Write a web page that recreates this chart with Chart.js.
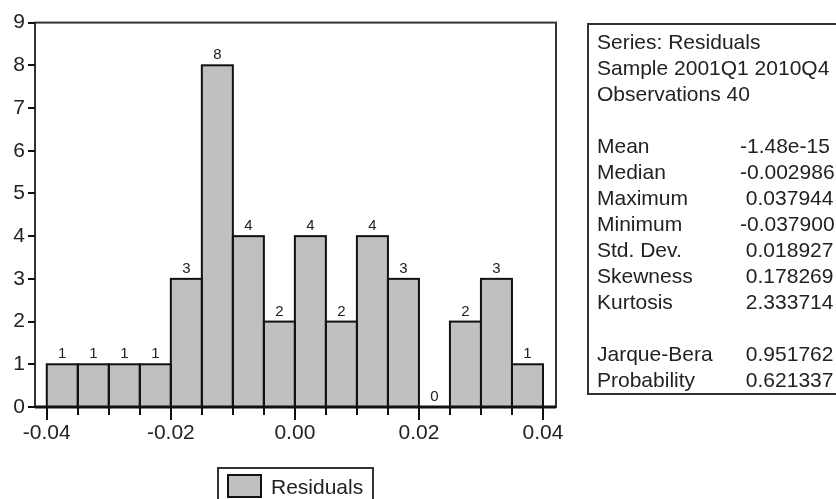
<!DOCTYPE html>
<html>
<head>
<meta charset="utf-8">
<script src="https://cdn.jsdelivr.net/npm/chart.js@4.4.1/dist/chart.umd.min.js"></script>
<style>
  html, body { margin: 0; padding: 0; background: #fff; overflow: hidden; }
  body { font-family: "Liberation Sans", Arial, sans-serif; color: #222; }
  #wrap { position: relative; width: 836px; height: 499px; }
  #stats {
    position: absolute; left: 587px; top: 23px; width: 300px; height: 372px;
    border: 2px solid #333; box-sizing: border-box; padding: 4px 0 0 8px;
    font-size: 21px; line-height: 26px; white-space: pre;
  }
  #stats .row { height: 26px; position: relative; }
  #stats .val { position: absolute; left: 143px; top: 0; }
  #legend {
    position: absolute; left: 217px; top: 467px; width: 157px; height: 40px;
    border: 2px solid #333; box-sizing: border-box; font-size: 21px;
  }
  #legend .sw {
    position: absolute; left: 8px; top: 5px; width: 35px; height: 24px;
    background: #c0c0c0; border: 2px solid #111; box-sizing: border-box;
  }
  #legend .txt { position: absolute; left: 52px; top: 5px; line-height: 26px; }
</style>
</head>
<body>
<div id="wrap">
  <canvas id="histChart"></canvas>
  <div id="stats"></div>
  <div id="legend"><div class="sw"></div><div class="txt"></div></div>
</div>
<script>
// Дані гістограми
const seriesName = 'Residuals';
const binEdges = [-0.04, -0.035, -0.03, -0.025, -0.02, -0.015, -0.01, -0.005, 0,
                  0.005, 0.01, 0.015, 0.02, 0.025, 0.03, 0.035, 0.04];
const counts = [1, 1, 1, 1, 3, 8, 4, 2, 4, 2, 4, 3, 0, 2, 3, 1];
const xTickValues = [-0.04, -0.02, 0, 0.02, 0.04];
const xTickLabels = ['-0.04', '-0.02', '0.00', '0.02', '0.04'];
const yTickValues = [0, 1, 2, 3, 4, 5, 6, 7, 8, 9];

// Статистика
const headerLines = ['Series: Residuals', 'Sample 2001Q1 2010Q4', 'Observations 40'];
const statLabels = ['Mean', 'Median', 'Maximum', 'Minimum', 'Std. Dev.', 'Skewness', 'Kurtosis', '', 'Jarque-Bera', 'Probability'];
const statValues = ['-1.48e-15', '-0.002986', ' 0.037944', '-0.037900', ' 0.018927', ' 0.178269', ' 2.333714', '', ' 0.951762', ' 0.621337'];

const FONT = '"Liberation Sans", Arial, sans-serif';

// Таблиця статистики
const statsBox = document.getElementById('stats');
let html = '';
headerLines.forEach(line => { html += `<div class="row">${line}</div>`; });
html += '<div class="row"></div>';
statLabels.forEach((label, i) => {
    html += `<div class="row">${label}<span class="val">${statValues[i]}</span></div>`;
});
statsBox.innerHTML = html;
document.querySelector('#legend .txt').textContent = seriesName;

const points = counts.map((c, i) => ({ x: (binEdges[i] + binEdges[i + 1]) / 2, y: c }));

// Рамка, штрихи, контури стовпців і підписи
const histDecor = {
    id: 'histDecor',
    afterDatasetsDraw(chart) {
        const ctx = chart.ctx;
        const meta = chart.getDatasetMeta(0);
        ctx.save();
        ctx.strokeStyle = '#111';
        ctx.lineWidth = 2;
        meta.data.forEach((bar, i) => {
            if (counts[i] === 0) return;
            const p = bar.getProps(['x', 'y', 'base', 'width'], true);
            ctx.strokeRect(p.x - p.width / 2, p.y, p.width, p.base - p.y);
        });
        ctx.fillStyle = '#222';
        ctx.font = '15px ' + FONT;
        ctx.textAlign = 'center';
        ctx.textBaseline = 'alphabetic';
        meta.data.forEach((bar, i) => {
            const p = bar.getProps(['x', 'y'], true);
            ctx.fillText(String(counts[i]), p.x, p.y - 6);
        });
        ctx.restore();
    },
    afterDraw(chart) {
        const ctx = chart.ctx;
        const a = chart.chartArea;
        const xs = chart.scales.x;
        const ys = chart.scales.y;
        ctx.save();
        ctx.strokeStyle = '#333';
        ctx.lineWidth = 2;
        ctx.strokeRect(a.left, a.top, a.right - a.left, a.bottom - a.top);
        ctx.strokeStyle = '#111';
        ctx.beginPath();
        yTickValues.forEach(v => {
            const y = Math.round(ys.getPixelForValue(v));
            ctx.moveTo(a.left - 7, y);
            ctx.lineTo(a.left, y);
        });
        binEdges.forEach(v => {
            const x = Math.round(xs.getPixelForValue(v));
            const major = xTickValues.some(t => Math.abs(t - v) < 1e-9);
            ctx.moveTo(x, a.bottom);
            ctx.lineTo(x, a.bottom + (major ? 13 : 8));
        });
        ctx.stroke();
        ctx.lineWidth = 3;
        ctx.beginPath();
        ctx.moveTo(a.left, a.bottom);
        ctx.lineTo(a.right, a.bottom);
        ctx.stroke();
        ctx.restore();
    }
};

const histCtx = document.getElementById('histChart').getContext('2d');
new Chart(histCtx, {
    type: 'bar',
    data: {
        datasets: [{
            label: seriesName,
            data: points,
            backgroundColor: '#c0c0c0',
            borderWidth: 0,
            barPercentage: 1,
            categoryPercentage: 1
        }]
    },
    options: {
        responsive: true,
        maintainAspectRatio: false,
        animation: false,
        layout: { padding: { left: 0, top: 20, right: 280, bottom: 0 } },
        plugins: {
            legend: { display: false },
            tooltip: { enabled: false }
        },
        scales: {
            x: {
                type: 'linear',
                min: -0.0419,
                max: 0.0421,
                offset: false,
                grid: { display: false, drawTicks: false },
                border: { display: false },
                afterBuildTicks: scale => {
                    scale.ticks = xTickValues.map(v => ({ value: v }));
                },
                afterFit: scale => { scale.height = 92; },
                ticks: {
                    autoSkip: false,
                    maxRotation: 0,
                    padding: 14,
                    color: '#222',
                    font: { family: FONT, size: 21 },
                    callback: (value) => {
                        const i = xTickValues.findIndex(t => Math.abs(t - value) < 1e-9);
                        return i >= 0 ? xTickLabels[i] : '';
                    }
                }
            },
            y: {
                min: 0,
                max: 9,
                grid: { display: false, drawTicks: false },
                border: { display: false },
                afterBuildTicks: scale => {
                    scale.ticks = yTickValues.map(v => ({ value: v }));
                },
                afterFit: scale => { scale.width = 35; },
                ticks: {
                    autoSkip: false,
                    padding: 10,
                    color: '#222',
                    font: { family: FONT, size: 21 }
                }
            }
        }
    },
    plugins: [histDecor]
});
</script>
</body>
</html>
